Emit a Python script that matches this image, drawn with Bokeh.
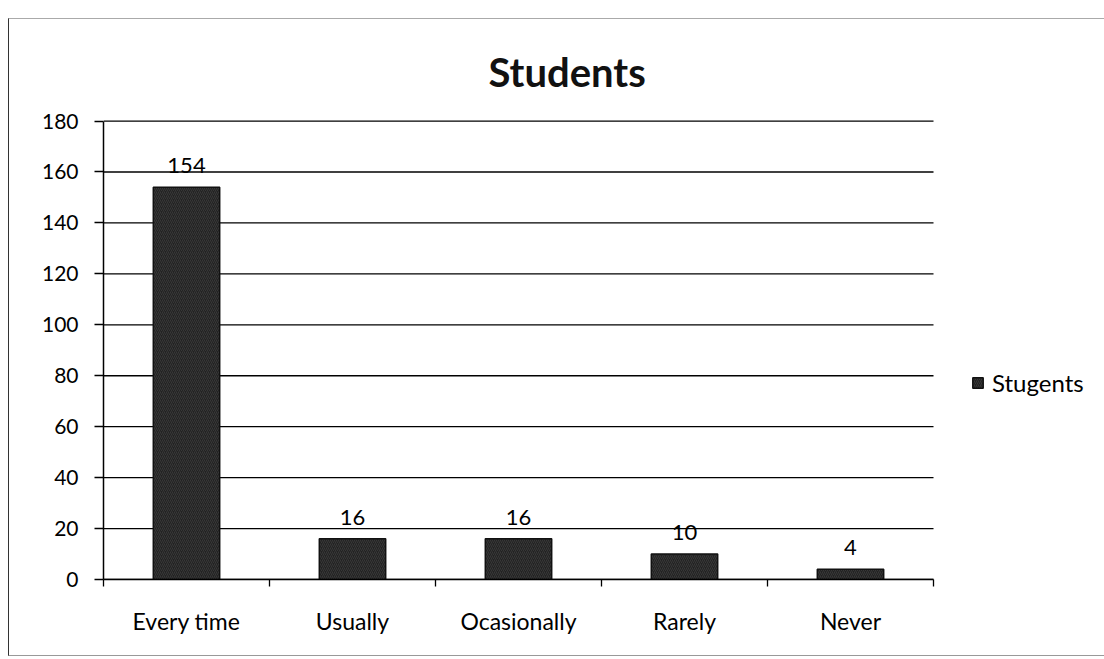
from bokeh.plotting import figure
from bokeh.models import ColumnDataSource, Range1d, FixedTicker, LabelSet, Legend, LegendItem
from bokeh.core.properties import value
from bokeh.embed import file_html
from bokeh.resources import INLINE

# ---- data ----
categories = ["Every time", "Usually", "Ocasionally", "Rarely", "Never"]
values = [154, 16, 16, 10, 4]
y_ticks = [0, 20, 40, 60, 80, 100, 120, 140, 160, 180]
series_name = "Stugents"
title_text = "Students"

FONT = "Lato"
n = len(categories)
xs = [i + 0.5 for i in range(n)]
src = ColumnDataSource(dict(x=xs, top=values, label=[str(v) for v in values]))
grid_src = ColumnDataSource(dict(y=y_ticks, x0=[0] * len(y_ticks), x1=[n] * len(y_ticks)))

# layout: bars occupy 830 px of a 994 px wide frame; the rest holds the legend
FRAME_W, CAT_W = 994, 830
p = figure(width=1096, height=638, output_backend="svg", toolbar_location=None,
           x_range=Range1d(0, n * FRAME_W / CAT_W),
           y_range=Range1d(y_ticks[0], y_ticks[-1] + 1),
           min_border_left=94, min_border_right=8, min_border_top=99,
           min_border_bottom=78)
p.outline_line_color = None
p.styles = {"margin-left": "8px", "margin-top": "18px",
            "border-left": "1.5px solid #333", "border-top": "1px solid #aaa",
            "border-bottom": "1px solid #999"}

# horizontal gridlines limited to the category area
p.segment(x0="x0", x1="x1", y0="y", y1="y", source=grid_src,
          line_color="black", line_width=1.3)

r = p.vbar(x="x", top="top", width=0.4, bottom=0, source=src,
           fill_color="#222222", line_color="#111111", line_width=1.5,
           hatch_pattern="right_diagonal_line", hatch_color="#6a6a6a",
           hatch_alpha=0.5, hatch_scale=4, hatch_weight=0.6)

# title
p.title.text = title_text
p.title.align = "left"
p.title.offset = 385
p.title.standoff = 45
p.title.text_font = FONT
p.title.text_font_size = "40px"
p.title.text_font_style = "bold"
p.title.text_color = "#111111"

# x axis
xa = p.xaxis[0]
xa.bounds = (0, n)
xa.ticker = FixedTicker(ticks=xs, minor_ticks=list(range(n + 1)))
xa.major_label_overrides = {xv: c for xv, c in zip(xs, categories)}
xa.major_tick_in = 0
xa.major_tick_out = 0
xa.minor_tick_in = 0
xa.minor_tick_out = 7
xa.minor_tick_line_color = "black"
xa.minor_tick_line_width = 1.3
xa.axis_line_color = "black"
xa.axis_line_width = 1.5
xa.major_label_standoff = 20
xa.major_label_text_font = FONT
xa.major_label_text_font_size = "23px"
xa.major_label_text_color = "black"

# y axis
ya = p.yaxis[0]
ya.bounds = (y_ticks[0], y_ticks[-1])
ya.ticker = FixedTicker(ticks=y_ticks)
ya.major_tick_in = 0
ya.major_tick_out = 9
ya.major_tick_line_color = "black"
ya.major_tick_line_width = 1.3
ya.minor_tick_line_color = None
ya.axis_line_color = "black"
ya.axis_line_width = 1.5
ya.major_label_standoff = 16
ya.major_label_text_font = FONT
ya.major_label_text_font_size = "21px"
ya.major_label_text_color = "black"

p.xgrid.visible = False
p.ygrid.visible = False

# data labels
labels = LabelSet(x="x", y="top", text="label", source=src, y_offset=14,
                  text_align="center", text_baseline="bottom",
                  text_font=value(FONT), text_font_size="22px", text_color="black")
p.add_layout(labels)

# legend
legend = Legend(items=[LegendItem(label=series_name, renderers=[r])],
                location=(868, 182), padding=0, margin=0,
                border_line_color=None, background_fill_alpha=0,
                glyph_width=13, glyph_height=13, label_standoff=8,
                label_text_font=FONT, label_text_font_size="24px",
                label_text_color="black")
p.add_layout(legend, "center")

open("out.html", "w").write(file_html(p, INLINE))
